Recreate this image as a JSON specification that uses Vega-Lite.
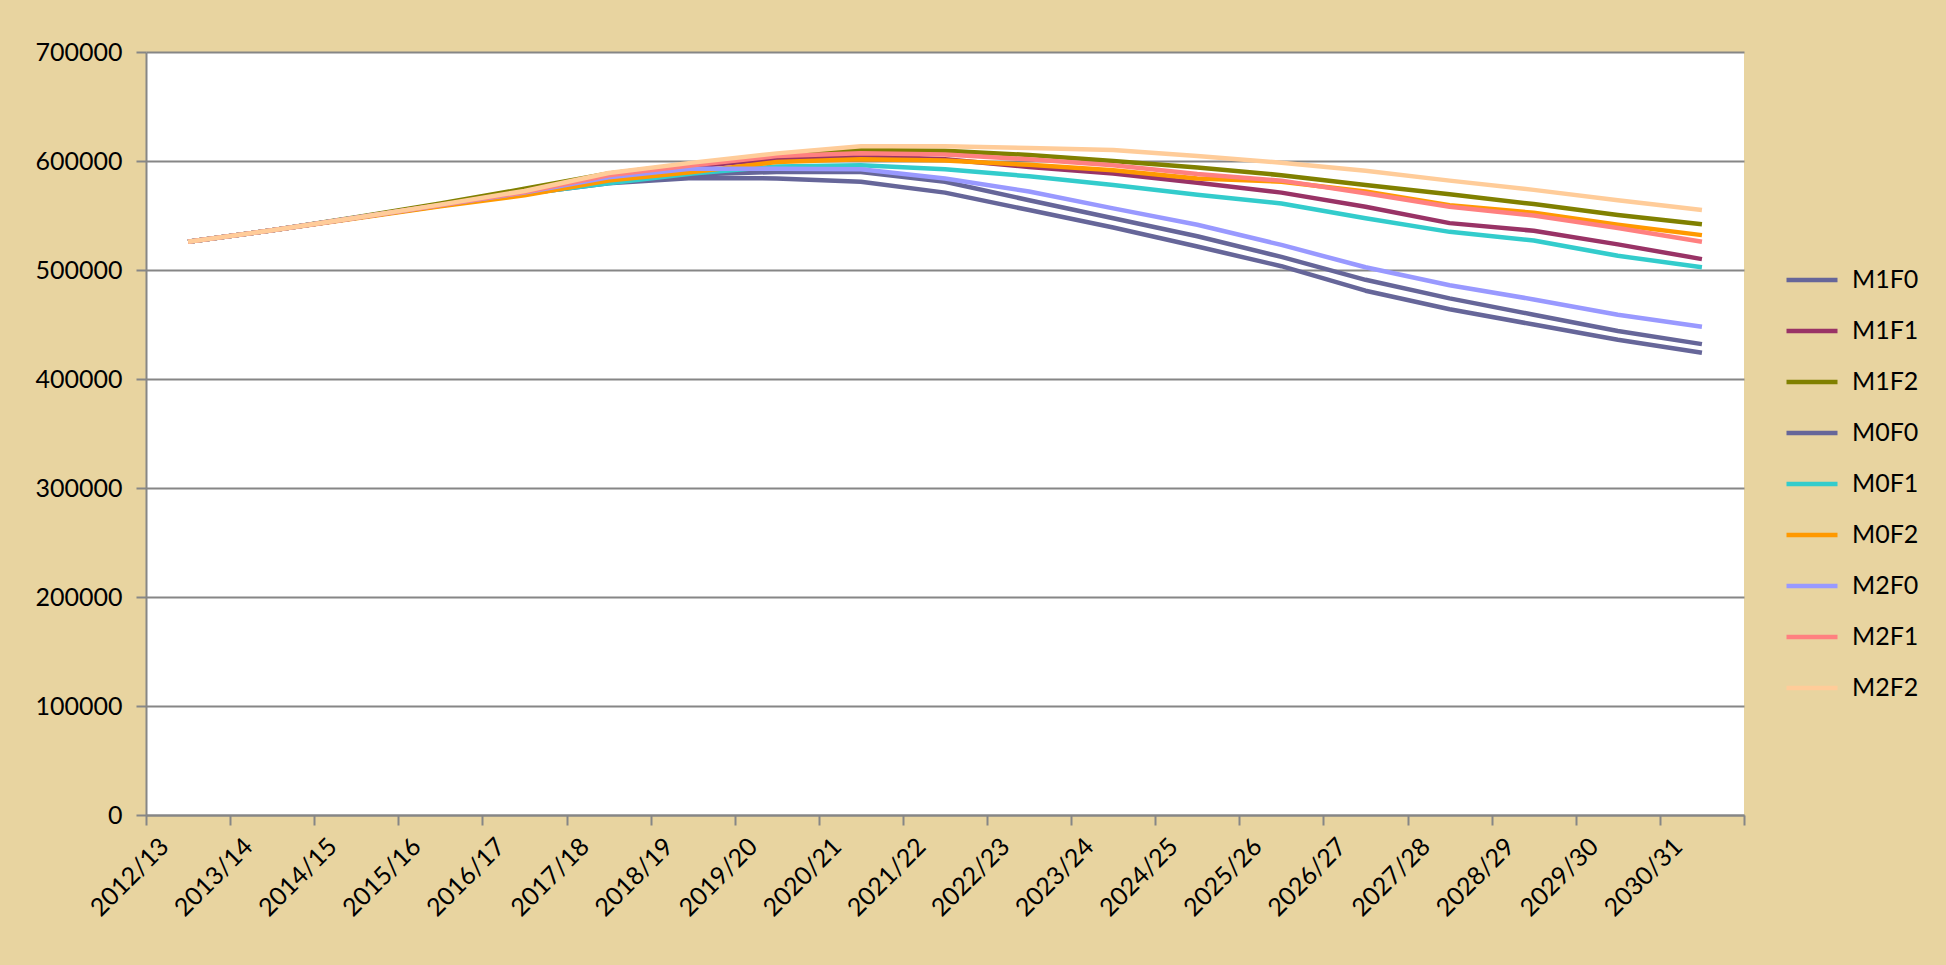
{
  "$schema": "https://vega.github.io/schema/vega-lite/v6.json",
  "autosize": {"type": "none"},
  "padding": {"left": 146, "top": 52, "right": 202, "bottom": 150},
  "width": 1598,
  "height": 763,
  "background": "#E8D4A0",
  "config": {
    "font": "Lato",
    "view": {"fill": "#FFFFFF", "stroke": null},
    "axis": {"labelFont": "Lato", "labelFontSize": 25, "labelColor": "#000000"}
  },
  "datasets": {
    "wide": [
      {"year": "2012/13", "M1F0": 526000, "M1F1": 526000, "M1F2": 526000, "M0F0": 526000, "M0F1": 526000, "M0F2": 526000, "M2F0": 526000, "M2F1": 526000, "M2F2": 526000},
      {"year": "2013/14", "M1F0": 536500, "M1F1": 536500, "M1F2": 536500, "M0F0": 536500, "M0F1": 536500, "M0F2": 536500, "M2F0": 536500, "M2F1": 536500, "M2F2": 536500},
      {"year": "2014/15", "M1F0": 548000, "M1F1": 548000, "M1F2": 548500, "M0F0": 548000, "M0F1": 548000, "M0F2": 547500, "M2F0": 548000, "M2F1": 548000, "M2F2": 548000},
      {"year": "2015/16", "M1F0": 559500, "M1F1": 559500, "M1F2": 561000, "M0F0": 559500, "M0F1": 559000, "M0F2": 558500, "M2F0": 559500, "M2F1": 559500, "M2F2": 560000},
      {"year": "2016/17", "M1F0": 570500, "M1F1": 571000, "M1F2": 574500, "M0F0": 570000, "M0F1": 570000, "M0F2": 568500, "M2F0": 571000, "M2F1": 571500, "M2F2": 572500},
      {"year": "2017/18", "M1F0": 580000, "M1F1": 584000, "M1F2": 588500, "M0F0": 579500, "M0F1": 579500, "M0F2": 582000, "M2F0": 585000, "M2F1": 587000, "M2F2": 589000},
      {"year": "2018/19", "M1F0": 587500, "M1F1": 595000, "M1F2": 597500, "M0F0": 584500, "M0F1": 588500, "M0F2": 590000, "M2F0": 593000, "M2F1": 596000, "M2F2": 598500},
      {"year": "2019/20", "M1F0": 590000, "M1F1": 602000, "M1F2": 606000, "M0F0": 584000, "M0F1": 595000, "M0F2": 599000, "M2F0": 593000, "M2F1": 604500, "M2F2": 607000},
      {"year": "2020/21", "M1F0": 590000, "M1F1": 604500, "M1F2": 610000, "M0F0": 581000, "M0F1": 596000, "M0F2": 601500, "M2F0": 592500, "M2F1": 607000, "M2F2": 613500},
      {"year": "2021/22", "M1F0": 581000, "M1F1": 601500, "M1F2": 609500, "M0F0": 571000, "M0F1": 592500, "M0F2": 600500, "M2F0": 584000, "M2F1": 606000, "M2F2": 613500},
      {"year": "2022/23", "M1F0": 564000, "M1F1": 594500, "M1F2": 605500, "M0F0": 555000, "M0F1": 586000, "M0F2": 596500, "M2F0": 572000, "M2F1": 601500, "M2F2": 612000},
      {"year": "2023/24", "M1F0": 547500, "M1F1": 588500, "M1F2": 600000, "M0F0": 539000, "M0F1": 578000, "M0F2": 591500, "M2F0": 556500, "M2F1": 596000, "M2F2": 610000},
      {"year": "2024/25", "M1F0": 531000, "M1F1": 580000, "M1F2": 594000, "M0F0": 521500, "M0F1": 569000, "M0F2": 584000, "M2F0": 541500, "M2F1": 588000, "M2F2": 604500},
      {"year": "2025/26", "M1F0": 512000, "M1F1": 571000, "M1F2": 587000, "M0F0": 503500, "M0F1": 561000, "M0F2": 581000, "M2F0": 523000, "M2F1": 582000, "M2F2": 598500},
      {"year": "2026/27", "M1F0": 491000, "M1F1": 558000, "M1F2": 578000, "M0F0": 481000, "M0F1": 547500, "M0F2": 572000, "M2F0": 502500, "M2F1": 570500, "M2F2": 591000},
      {"year": "2027/28", "M1F0": 474000, "M1F1": 543000, "M1F2": 569500, "M0F0": 464000, "M0F1": 535000, "M0F2": 559500, "M2F0": 486000, "M2F1": 558000, "M2F2": 582000},
      {"year": "2028/29", "M1F0": 459000, "M1F1": 536000, "M1F2": 560500, "M0F0": 450000, "M0F1": 527000, "M0F2": 552500, "M2F0": 473000, "M2F1": 550000, "M2F2": 573500},
      {"year": "2029/30", "M1F0": 444000, "M1F1": 523500, "M1F2": 550500, "M0F0": 436000, "M0F1": 513000, "M0F2": 541500, "M2F0": 459000, "M2F1": 538500, "M2F2": 564000},
      {"year": "2030/31", "M1F0": 432000, "M1F1": 510000, "M1F2": 542000, "M0F0": 424000, "M0F1": 502500, "M0F2": 532000, "M2F0": 448000, "M2F1": 526000, "M2F2": 555000}
    ]
  },
  "data": {"name": "wide"},
  "transform": [
    {"fold": ["M1F0", "M1F1", "M1F2", "M0F0", "M0F1", "M0F2", "M2F0", "M2F1", "M2F2"], "as": ["series", "value"]}
  ],
  "mark": {"type": "line", "strokeWidth": 4.5, "strokeJoin": "round"},
  "encoding": {
    "x": {
      "field": "year", "type": "nominal", "sort": null,
      "scale": {"paddingInner": 0, "paddingOuter": 0},
      "axis": {
        "title": null, "tickBand": "extent", "labelAngle": -45, "labelAlign": "right", "labelBaseline": "middle",
        "labelOffset": -24, "labelPadding": 17, "tickSize": 10, "tickColor": "#868686", "tickWidth": 2,
        "domainColor": "#868686", "domainWidth": 2, "grid": false
      }
    },
    "y": {
      "field": "value", "type": "quantitative",
      "scale": {"domain": [0, 700000], "nice": false},
      "axis": {
        "title": null, "values": [0, 100000, 200000, 300000, 400000, 500000, 600000, 700000], "format": "d",
        "tickSize": 10, "labelPadding": 14, "tickColor": "#868686", "tickWidth": 2,
        "domainColor": "#868686", "domainWidth": 2, "gridColor": "#868686", "gridWidth": 2
      }
    },
    "color": {
      "field": "series", "type": "nominal",
      "scale": {
        "domain": ["M1F0", "M1F1", "M1F2", "M0F0", "M0F1", "M0F2", "M2F0", "M2F1", "M2F2"],
        "range": ["#666699", "#993366", "#808000", "#666699", "#33CCCC", "#FF9900", "#9999FF", "#FF8080", "#FFCC99"]
      },
      "legend": {
        "title": null, "orient": "none", "legendX": 1638, "legendY": 200,
        "symbolType": "stroke", "symbolSize": 2601, "symbolStrokeWidth": 4.5,
        "labelFont": "Lato", "labelFontSize": 25, "labelColor": "#000000", "labelOffset": 12, "rowPadding": 10
      }
    }
  }
}
